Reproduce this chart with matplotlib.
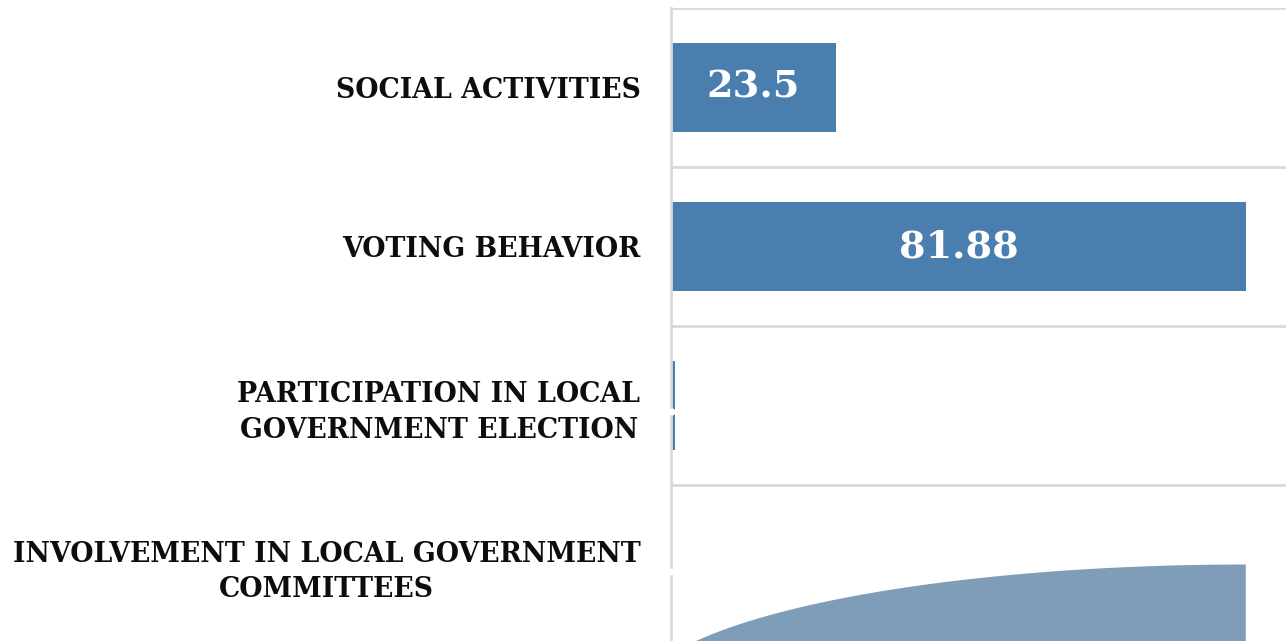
import numpy as np
import matplotlib
matplotlib.use('Agg')
import matplotlib.pyplot as plt
from matplotlib.patches import Polygon

# 数据
categories = ['SOCIAL ACTIVITIES', 'VOTING BEHAVIOR',
              'PARTICIPATION IN LOCAL\nGOVERNMENT ELECTION',
              'INVOLVEMENT IN LOCAL GOVERNMENT\nCOMMITTEES']
values = [23.5, 81.88, 0.5, 0.2]
value_labels = ['23.5', '81.88', '0.5', '0.2']

bar_color = '#4a7eaf'
grid_color = '#d9d9d9'

W, H = 1286, 641
fig = plt.figure(figsize=(W / 100, H / 100), dpi=100)
# 坐标区向下略微超出画布
ax = fig.add_axes([671 / W, (641 - 644) / H, (W - 671) / W, 636 / H])

y = np.arange(len(categories))
bars = ax.barh(y, values, height=0.555, color=bar_color, zorder=2)
ax.set_ylim(len(categories) - 0.5, -0.5)
ax.set_xlim(0, (W - 671) / 7.02)

# 类别之间的网格线
ax.set_yticks(y)
ax.set_yticklabels(categories, fontsize=19.3, fontweight='bold', family='DejaVu Serif',
                   color='#0d0d0d', multialignment='center', linespacing=1.42)
ax.set_yticks(np.arange(len(categories) + 1) - 0.5, minor=True)
ax.tick_params(axis='y', which='both', length=0, pad=22)
ax.grid(which='minor', axis='y', color=grid_color, linewidth=2, zorder=0)
ax.set_xticks([])

for s in ['top', 'right', 'bottom']:
    ax.spines[s].set_visible(False)
ax.spines['left'].set_color(grid_color)
ax.spines['left'].set_linewidth(2)

# 数值标签
for b, lab in zip(bars, value_labels):
    ax.text(b.get_width() / 2, b.get_y() + b.get_height() / 2, lab,
            ha='center', va='center', color='white', fontsize=27.5,
            fontweight='bold', family='DejaVu Serif', zorder=3)

# 底部的弧形色块
cx, cy, a, b = 81.88, 3.85, 86.9, 0.85
t = np.linspace(np.pi / 2, np.pi, 200)
pts = np.column_stack([cx + a * np.cos(t), cy - b * np.sin(t)])
pts = np.vstack([pts, [cx, cy]])
ax.add_patch(Polygon(pts, closed=True, facecolor='#7f9db9', edgecolor='none', zorder=2))

fig.savefig('out.png', dpi=100)
